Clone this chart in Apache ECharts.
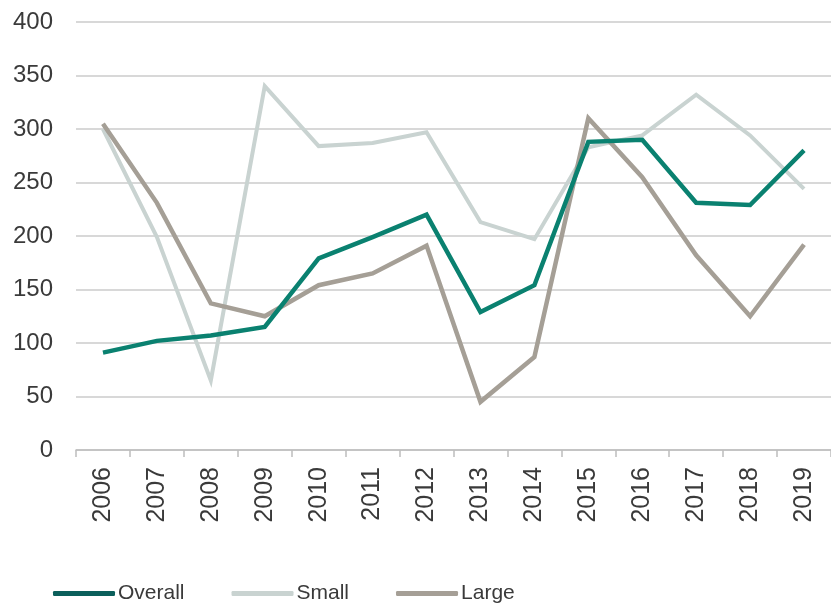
<!DOCTYPE html>
<html>
<head>
<meta charset="utf-8">
<script src="https://cdn.jsdelivr.net/npm/echarts@6/dist/echarts.min.js"></script>
<style>
  html, body { margin: 0; padding: 0; background: #fff; }
  #chart { width: 831px; height: 607px; }
</style>
</head>
<body>
<div id="chart"></div>
<script>
const years = ['2006', '2007', '2008', '2009', '2010', '2011', '2012', '2013', '2014', '2015', '2016', '2017', '2018', '2019']
const overall = [91, 102, 107, 115, 179, 199, 220, 129, 154, 288, 290, 231, 229, 280]
const small = [300, 199, 65, 340, 284, 287, 297, 213, 197, 283, 294, 332, 294, 244]
const large = [305, 231, 137, 125, 154, 165, 191, 45, 87, 310, 255, 182, 125, 192]
const yTicks = [0, 50, 100, 150, 200, 250, 300, 350, 400]

const font = '"Liberation Sans", Arial, sans-serif'
const textColor = '#3a3a3a'

const chart = echarts.init(document.getElementById('chart'))

// one line series
function lineSeries (name, data, color, width) {
  return {
    name: name,
    type: 'line',
    data: data,
    symbol: 'none',
    lineStyle: { color: color, width: width, join: 'miter' },
    itemStyle: { color: color },
    animation: false
  }
}

chart.setOption({
  animation: false,
  grid: {
    left: 76,
    top: 22,
    width: 760,
    height: 428,
    containLabel: false
  },
  legend: {
    left: 53,
    top: 583,
    padding: 0,
    itemWidth: 62,
    itemHeight: 5,
    itemGap: 47,
    icon: 'roundRect',
    textStyle: { fontFamily: font, fontSize: 21, color: textColor, padding: [0, 0, 0, -2] },
    data: [
      { name: 'Overall', itemStyle: { color: '#0b5f5b' } },
      { name: 'Small', itemStyle: { color: '#c9d3d1' } },
      { name: 'Large', itemStyle: { color: '#a59f96' } }
    ]
  },
  xAxis: {
    type: 'category',
    data: years,
    boundaryGap: true,
    axisLine: { lineStyle: { color: '#bdbdbd', width: 1.5 } },
    axisTick: { show: true, length: 7, lineStyle: { color: '#bdbdbd', width: 1.5 } },
    axisLabel: {
      rotate: 90,
      margin: 17,
      fontFamily: font,
      fontSize: 25,
      color: textColor
    }
  },
  yAxis: {
    type: 'value',
    min: yTicks[0],
    max: yTicks[yTicks.length - 1],
    interval: 50,
    axisLine: { show: false },
    axisTick: { show: false },
    axisLabel: {
      margin: 23,
      fontFamily: font,
      fontSize: 24,
      color: textColor
    },
    splitLine: { lineStyle: { color: '#cbcbcb', width: 1.5 } }
  },
  series: [
    lineSeries('Small', small, '#c9d3d1', 4),
    lineSeries('Large', large, '#a59f96', 4.5),
    lineSeries('Overall', overall, '#0a8170', 4.5)
  ]
})
</script>
</body>
</html>
